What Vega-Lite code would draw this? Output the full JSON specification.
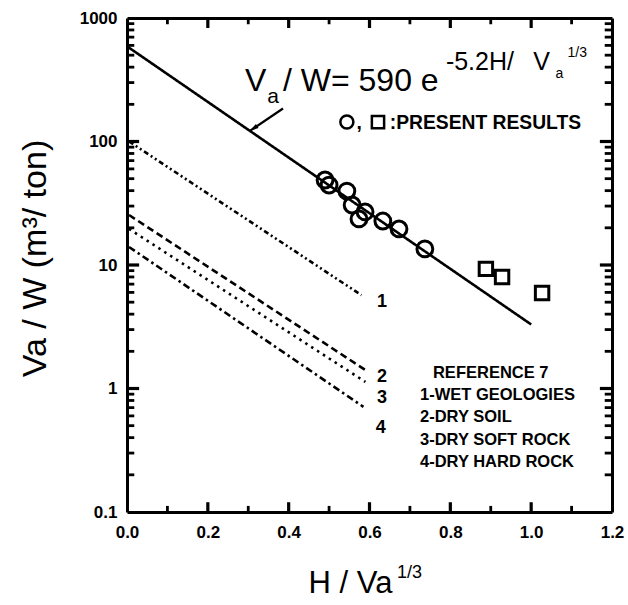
{
  "$schema": "https://vega.github.io/schema/vega-lite/v6.json",
  "width": 485,
  "height": 494,
  "autosize": {"type": "none"},
  "padding": {"left": 127, "top": 18, "right": 16, "bottom": 93},
  "background": "white",
  "config": {
    "view": {"stroke": null},
    "font": "Liberation Sans",
    "axis": {
      "domainColor": "black", "domainWidth": 3,
      "grid": false, "labelFont": "Liberation Sans", "labelFontWeight": "bold", "labelFontSize": 17,
      "labelColor": "black", "titleFont": "Liberation Sans", "titleFontWeight": "normal", "titleColor": "black",
      "labelOverlap": false, "labelFlush": false
    }
  },
  "datasets": {
    "lines": [
      {"s": "main", "x": 0, "y": 590}, {"s": "main", "x": 1.0, "y": 3.3},
      {"s": "l1", "x": 0.005, "y": 100}, {"s": "l1", "x": 0.58, "y": 5.7},
      {"s": "l2", "x": 0.005, "y": 25.4}, {"s": "l2", "x": 0.59, "y": 1.41},
      {"s": "l3", "x": 0.005, "y": 19.6}, {"s": "l3", "x": 0.59, "y": 1.13},
      {"s": "l4", "x": 0.005, "y": 14.0}, {"s": "l4", "x": 0.585, "y": 0.71}
    ],
    "circles": [
      {"x": 0.490, "y": 48.8}, {"x": 0.500, "y": 44.4}, {"x": 0.544, "y": 39.7},
      {"x": 0.557, "y": 30.6}, {"x": 0.589, "y": 26.9}, {"x": 0.574, "y": 23.6},
      {"x": 0.633, "y": 22.7}, {"x": 0.673, "y": 19.6}, {"x": 0.737, "y": 13.5}
    ],
    "squares": [
      {"x": 0.888, "y": 9.3}, {"x": 0.928, "y": 8.0}, {"x": 1.027, "y": 5.93}
    ],
    "ymaj": [{"v": 1}, {"v": 10}, {"v": 100}],
    "ymin": [
      {"v": 0.2}, {"v": 0.3}, {"v": 0.4}, {"v": 0.5}, {"v": 0.6}, {"v": 0.7}, {"v": 0.8}, {"v": 0.9},
      {"v": 2}, {"v": 3}, {"v": 4}, {"v": 5}, {"v": 6}, {"v": 7}, {"v": 8}, {"v": 9},
      {"v": 20}, {"v": 30}, {"v": 40}, {"v": 50}, {"v": 60}, {"v": 70}, {"v": 80}, {"v": 90},
      {"v": 200}, {"v": 300}, {"v": 400}, {"v": 500}, {"v": 600}, {"v": 700}, {"v": 800}, {"v": 900}
    ],
    "xmaj": [{"v": 0.2}, {"v": 0.4}, {"v": 0.6}, {"v": 0.8}, {"v": 1.0}],
    "xmin": [{"v": 0.1}, {"v": 0.3}, {"v": 0.5}, {"v": 0.7}, {"v": 0.9}, {"v": 1.1}]
  },
  "layer": [
    {
      "data": {"name": "lines"},
      "mark": {"type": "line", "color": "black", "strokeWidth": 2.6},
      "encoding": {
        "x": {"field": "x", "type": "quantitative",
          "scale": {"domain": [0, 1.2], "nice": false, "zero": false},
          "axis": {"orient": "bottom", "title": "H / Va", "titleFontSize": 31,
            "values": [0, 0.2, 0.4, 0.6, 0.8, 1.0, 1.2],
            "format": ".1f", "ticks": false, "tickSize": 0, "labelPadding": 12,
            "titleX": 223, "titleY": 80, "titleAlign": "center", "titleBaseline": "alphabetic"}},
        "y": {"field": "y", "type": "quantitative",
          "scale": {"type": "log", "domain": [0.1, 1000], "nice": false},
          "axis": {"orient": "left", "title": "Va / W (m³/ ton)", "titleFontSize": 34,
            "values": [0.1, 1, 10, 100, 1000], "format": "~g",
            "ticks": false, "tickSize": 0, "labelPadding": 10,
            "titleX": -82, "titleY": 240, "titleAlign": "center", "titleBaseline": "alphabetic"}},
        "detail": {"field": "s"},
        "strokeDash": {"field": "s", "type": "nominal", "legend": null,
          "scale": {"domain": ["main", "l1", "l2", "l3", "l4"],
            "range": [[1, 0], [5, 3, 2, 3, 2, 3], [7, 4], [2.5, 4.5], [7, 3.5, 2.5, 3.5]]}}
      }
    },
    {
      "data": {"name": "ymaj"},
      "mark": {"type": "rule", "color": "black", "strokeWidth": 3.2},
      "encoding": {"y": {"field": "v", "type": "quantitative", "axis": null}, "x": {"datum": 0, "type": "quantitative", "axis": null}, "x2": {"datum": 0.03}}
    },
    {
      "data": {"name": "ymaj"},
      "mark": {"type": "rule", "color": "black", "strokeWidth": 3.2},
      "encoding": {"y": {"field": "v", "type": "quantitative", "axis": null}, "x": {"datum": 1.17, "type": "quantitative", "axis": null}, "x2": {"datum": 1.2}}
    },
    {
      "data": {"name": "ymin"},
      "mark": {"type": "rule", "color": "black", "strokeWidth": 2.8},
      "encoding": {"y": {"field": "v", "type": "quantitative", "axis": null}, "x": {"datum": 0, "type": "quantitative", "axis": null}, "x2": {"datum": 0.018}}
    },
    {
      "data": {"name": "ymin"},
      "mark": {"type": "rule", "color": "black", "strokeWidth": 2.8},
      "encoding": {"y": {"field": "v", "type": "quantitative", "axis": null}, "x": {"datum": 1.182, "type": "quantitative", "axis": null}, "x2": {"datum": 1.2}}
    },
    {
      "data": {"name": "xmaj"},
      "mark": {"type": "rule", "color": "black", "strokeWidth": 3.2},
      "encoding": {"x": {"field": "v", "type": "quantitative", "axis": null}, "y": {"datum": 0.1, "type": "quantitative", "axis": null}, "y2": {"datum": 0.12}}
    },
    {
      "data": {"name": "xmaj"},
      "mark": {"type": "rule", "color": "black", "strokeWidth": 3.2},
      "encoding": {"x": {"field": "v", "type": "quantitative", "axis": null}, "y": {"datum": 1000, "type": "quantitative", "axis": null}, "y2": {"datum": 830}}
    },
    {
      "data": {"name": "xmin"},
      "mark": {"type": "rule", "color": "black", "strokeWidth": 2.8},
      "encoding": {"x": {"field": "v", "type": "quantitative", "axis": null}, "y": {"datum": 0.1, "type": "quantitative", "axis": null}, "y2": {"datum": 0.112}}
    },
    {
      "data": {"name": "xmin"},
      "mark": {"type": "rule", "color": "black", "strokeWidth": 2.8},
      "encoding": {"x": {"field": "v", "type": "quantitative", "axis": null}, "y": {"datum": 1000, "type": "quantitative", "axis": null}, "y2": {"datum": 890}}
    },
    {
      "data": {"name": "circles"},
      "mark": {"type": "point", "shape": "circle", "filled": false, "color": "black", "strokeWidth": 3, "size": 250, "opacity": 1},
      "encoding": {
        "x": {"field": "x", "type": "quantitative", "axis": null},
        "y": {"field": "y", "type": "quantitative", "axis": null}
      }
    },
    {
      "data": {"name": "squares"},
      "mark": {"type": "point", "shape": "square", "filled": false, "color": "black", "strokeWidth": 3, "size": 180, "opacity": 1},
      "encoding": {
        "x": {"field": "x", "type": "quantitative", "axis": null},
        "y": {"field": "y", "type": "quantitative", "axis": null}
      }
    },
    {
      "data": {"values": [{"x": 0.544, "y": 143.8}]},
      "mark": {"type": "point", "shape": "circle", "filled": false, "color": "black", "strokeWidth": 2.5, "size": 170, "opacity": 1},
      "encoding": {
        "x": {"field": "x", "type": "quantitative",
          "axis": {"orient": "top", "title": null, "labels": false, "ticks": false, "values": [0]}},
        "y": {"field": "y", "type": "quantitative",
          "axis": {"orient": "right", "title": null, "labels": false, "ticks": false, "values": [1]}}
      }
    },
    {
      "data": {"values": [{"x": 0.621, "y": 143.8}]},
      "mark": {"type": "point", "shape": "square", "filled": false, "color": "black", "strokeWidth": 2.5, "size": 150, "opacity": 1},
      "encoding": {
        "x": {"field": "x", "type": "quantitative", "axis": null},
        "y": {"field": "y", "type": "quantitative", "axis": null}
      }
    },
    {
      "data": {"values": [{"x": 0.386, "y": 185, "x2": 0.304, "y2": 122}]},
      "mark": {"type": "rule", "color": "black", "strokeWidth": 2.2},
      "encoding": {
        "x": {"field": "x", "type": "quantitative", "axis": null},
        "y": {"field": "y", "type": "quantitative", "axis": null},
        "x2": {"field": "x2"},
        "y2": {"field": "y2"}
      }
    },
    {
      "data": {"values": [{"x": 0.304, "y": 122}]},
      "mark": {"type": "point", "shape": "M0,0L0.7,2.5L-0.7,2.5Z", "filled": true, "color": "black", "size": 49, "angle": 237, "opacity": 1},
      "encoding": {
        "x": {"field": "x", "type": "quantitative", "axis": null},
        "y": {"field": "y", "type": "quantitative", "axis": null}
      }
    },
    {
      "data": {"values": [{"t": "V", "x": 0.292, "y": 256}, {"t": "/ W= 590 e", "x": 0.386, "y": 256}]},
      "mark": {"type": "text", "align": "left", "baseline": "alphabetic", "fontSize": 32, "font": "Liberation Sans", "color": "black"},
      "encoding": {
        "x": {"field": "x", "type": "quantitative", "axis": null},
        "y": {"field": "y", "type": "quantitative", "axis": null},
        "text": {"field": "t"}
      }
    },
    {
      "data": {"values": [{"t": "a", "x": 0.347, "y": 205}]},
      "mark": {"type": "text", "align": "left", "baseline": "alphabetic", "fontSize": 21, "font": "Liberation Sans", "color": "black"},
      "encoding": {
        "x": {"field": "x", "type": "quantitative", "axis": null},
        "y": {"field": "y", "type": "quantitative", "axis": null},
        "text": {"field": "t"}
      }
    },
    {
      "data": {"values": [{"t": "-5.2H/", "x": 0.789, "y": 379}, {"t": "V", "x": 1.005, "y": 379}]},
      "mark": {"type": "text", "align": "left", "baseline": "alphabetic", "fontSize": 25, "font": "Liberation Sans", "color": "black"},
      "encoding": {
        "x": {"field": "x", "type": "quantitative", "axis": null},
        "y": {"field": "y", "type": "quantitative", "axis": null},
        "text": {"field": "t"}
      }
    },
    {
      "data": {"values": [{"t": "a", "x": 1.06, "y": 327}, {"t": "1/3", "x": 1.09, "y": 483}]},
      "mark": {"type": "text", "align": "left", "baseline": "alphabetic", "fontSize": 14, "font": "Liberation Sans", "color": "black"},
      "encoding": {
        "x": {"field": "x", "type": "quantitative", "axis": null},
        "y": {"field": "y", "type": "quantitative", "axis": null},
        "text": {"field": "t"}
      }
    },
    {
      "data": {"values": [{"t": ",", "x": 0.568, "y": 126}, {"t": ":PRESENT RESULTS", "x": 0.650, "y": 126}]},
      "mark": {"type": "text", "align": "left", "baseline": "alphabetic", "fontSize": 19.3, "fontWeight": "bold", "font": "Liberation Sans", "color": "black"},
      "encoding": {
        "x": {"field": "x", "type": "quantitative", "axis": null},
        "y": {"field": "y", "type": "quantitative", "axis": null},
        "text": {"field": "t"}
      }
    },
    {
      "data": {"values": [{"t": "1", "x": 0.631, "y": 5.01}, {"t": "2", "x": 0.631, "y": 1.24}, {"t": "3", "x": 0.631, "y": 0.838}, {"t": "4", "x": 0.628, "y": 0.479}]},
      "mark": {"type": "text", "align": "center", "baseline": "middle", "fontSize": 18, "fontWeight": "bold", "font": "Liberation Sans", "color": "black"},
      "encoding": {
        "x": {"field": "x", "type": "quantitative", "axis": null},
        "y": {"field": "y", "type": "quantitative", "axis": null},
        "text": {"field": "t"}
      }
    },
    {
      "data": {"values": [
        {"t": "REFERENCE 7", "x": 0.757, "y": 1.335},
        {"t": "1-WET GEOLOGIES", "x": 0.725, "y": 0.886},
        {"t": "2-DRY SOIL", "x": 0.725, "y": 0.588},
        {"t": "3-DRY SOFT ROCK", "x": 0.725, "y": 0.383},
        {"t": "4-DRY HARD ROCK", "x": 0.725, "y": 0.254}
      ]},
      "mark": {"type": "text", "align": "left", "baseline": "middle", "fontSize": 16.5, "fontWeight": "bold", "font": "Liberation Sans", "color": "black"},
      "encoding": {
        "x": {"field": "x", "type": "quantitative", "axis": null},
        "y": {"field": "y", "type": "quantitative", "axis": null},
        "text": {"field": "t"}
      }
    },
    {
      "data": {"values": [{"t": "1/3", "x": 0.668, "y": 0.0292}]},
      "mark": {"type": "text", "align": "left", "baseline": "alphabetic", "fontSize": 18, "font": "Liberation Sans", "color": "black"},
      "encoding": {
        "x": {"field": "x", "type": "quantitative", "axis": null},
        "y": {"field": "y", "type": "quantitative", "axis": null},
        "text": {"field": "t"}
      }
    }
  ],
  "resolve": {"axis": {"x": "independent", "y": "independent"}}
}
